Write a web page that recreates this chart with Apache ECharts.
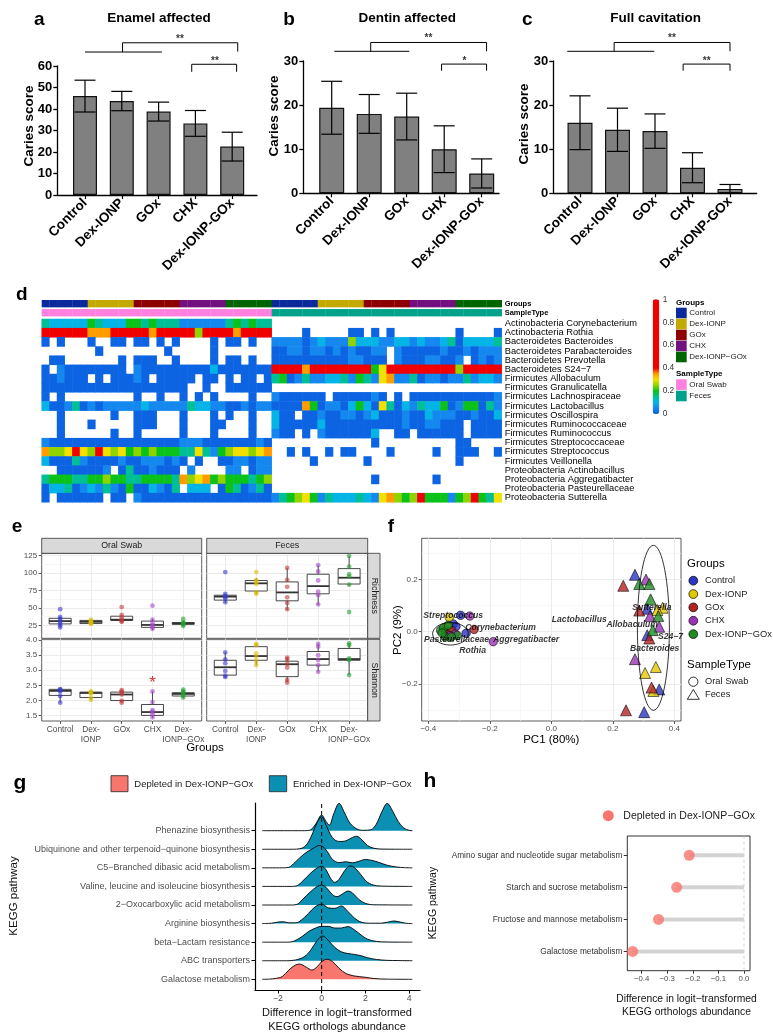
<!DOCTYPE html>
<html><head><meta charset="utf-8">
<script src="https://cdn.jsdelivr.net/npm/echarts@6/dist/echarts.min.js"></script>
<style>html,body{margin:0;padding:0;background:#fff}#c{width:773px;height:1035px}</style>
</head><body><div id="c"></div>
<script>
// ===================== DATA =====================
const groups = ['Control','Dex-IONP','GOx','CHX','Dex-IONP-GOx'];
// panels a-c (mean, SD)
const enamelMean = [46.0, 43.7, 38.8, 33.3, 22.5];
const enamelSD   = [7.4, 4.5, 4.4, 6.0, 6.7];
const dentinMean = [19.4, 18.0, 17.4, 10.0, 4.5];
const dentinSD   = [6.0, 4.4, 5.3, 5.3, 3.3];
const cavMean    = [16.0, 14.4, 14.1, 5.8, 1.0];
const cavSD      = [6.1, 4.9, 3.9, 3.4, 1.0];

// panel d heatmap: one string per taxon, one char per sample ('.' = absent, 0-9 = level)
const taxa = ['Actinobacteria Corynebacterium','Actinobacteria Rothia','Bacteroidetes Bacteroides','Bacteroidetes Parabacteroides','Bacteroidetes Prevotella','Bacteroidetes S24\u22127','Firmicutes Allobaculum','Firmicutes Granulicatella','Firmicutes Lachnospiraceae','Firmicutes Lactobacillus','Firmicutes Oscillospira','Firmicutes Ruminococcaceae','Firmicutes Ruminococcus','Firmicutes Streptococcaceae','Firmicutes Streptococcus','Firmicutes Veillonella','Proteobacteria Actinobacillus','Proteobacteria Aggregatibacter','Proteobacteria Pasteurellaceae','Proteobacteria Sutterella'];
const hmOral = [
 '322222432224434333111111343433',
 '999989777998997999995999879988',
 '0.0...0..00.00.0.0....0.00.0..',
 '.......0........0.....0.......',
 '.00.......0.000..0....0.00.0..',
 '0.100000000.100000000020000000',
 '001000.0.00010.00000.00.0.00.0',
 '0000000000000000000..0..000000',
 '0.0.........0..0..0.0.0....0..',
 '200130101111121111132211001011',
 '..0......0..000...0...0.0..0..',
 '..0...0.....000...0...00...0..',
 '..0......0..0.....0...0....0..',
 '100000000000000000111000000010',
 '755686596564545444336314566567',
 '2000310000100111010.0..0011011',
 '..0000001.03001000.1....11.011',
 '344433445443344443756745444345',
 '022301213104002103.222.0430130',
 '0.000000.00.100000000000000000'];
const hmFeces = [
 '..............................',
 '....0.....00.0.0........0....0',
 '111101211152221122121123022223',
 '001101101010011.10000010010111',
 '000000000011000.100011001.0101',
 '999979999999946999999999599999',
 '340131122314316711301101131221',
 '..............................',
 '1000000.0000010.0.000000000001',
 '000074011024206302132240144031',
 '200.00100110120001002111001002',
 '2000002000000000010011000.0000',
 '100.0.10000002..00.000000.0000',
 '.............0..........00....',
 '..0.0..0.00....0.....0..000..0',
 '.....0......0...........0.....',
 '..............................',
 '.............0.......0........',
 '..............................',
 '134564132223216754594441459436'];
const levelValue = [0.01, 0.05, 0.10, 0.15, 0.20, 0.25, 0.30, 0.35, 0.40, 0.85];
const colorbarTicks = [0, 0.2, 0.4, 0.6, 0.8, 1];

// panel e: box stats [low, Q1, median, Q3, high] and sample points
const oralRichBox  = [[22,27,31,35,37],[26,27.5,30,32,33],[30,32,33,38,40],[18,22,25.5,31,34],[24,26.5,27.5,29,31]];
const oralRichPts  = [[48,37,34,31,28,25,22],[33,31,30,29,28,27],[51,40,36,33,31,30],[53,33,28,25,23,20],[34,29,28,27,26,24]];
const fecesRichBox = [[57,61,66,68,70],[70,74,85,89,92],[47,60,72,87,107],[54,70,81,98,111],[82,84,93,106,124]];
const fecesRichPts = [[101,70,67,65,63,58],[101,90,87,84,72,70],[107,90,80,65,57,48],[111,102,89,73,68,55],[124,109,98,95,83,44]];
const oralShanBox  = [[1.93,2.17,2.32,2.37,2.38],[2.02,2.1,2.25,2.28,2.3],[1.93,2.0,2.2,2.28,2.34],[1.43,1.51,1.62,1.87,2.3],[2.08,2.15,2.22,2.26,2.36]];
const oralShanPts  = [[2.38,2.36,2.33,2.3,2.15,1.93],[2.3,2.28,2.25,2.24,2.1,2.02],[2.34,2.3,2.25,2.2,2.0,1.93],[2.3,1.95,1.68,1.63,1.55,1.45],[2.36,2.3,2.25,2.22,2.17,2.1]];
const fecesShanBox = [[2.78,2.84,3.1,3.33,3.6],[3.17,3.33,3.47,3.78,3.88],[2.6,2.79,3.2,3.3,3.42],[2.95,3.17,3.37,3.62,3.88],[2.84,3.33,3.37,3.72,3.9]];
const fecesShanPts = [[3.59,3.36,3.23,2.98,2.82,2.78],[3.87,3.83,3.56,3.45,3.31,3.17],[3.42,3.36,3.21,3.09,2.68,2.59],[3.87,3.78,3.5,3.34,3.17,2.95],[3.89,3.83,3.39,3.34,2.84]];
const eXLabels = ['Control','Dex-\nIONP','GOx','CHX','Dex-\nIONP\u2212GOx'];

// panel f: PCoA coordinates per group
const pcaOral = [
 [[-0.295,0.063],[-0.319,0.030],[-0.277,-0.006],[-0.335,0.010],[-0.310,0.020]],
 [[-0.332,0.055],[-0.340,0.020],[-0.330,0.000]],
 [[-0.324,0.004],[-0.251,0.009],[-0.340,-0.010]],
 [[-0.265,0.060],[-0.313,-0.009],[-0.189,-0.038],[-0.330,-0.015]],
 [[-0.360,0.005],[-0.350,0.015],[-0.345,-0.020],[-0.335,0.025],[-0.306,-0.014],[-0.355,-0.005],[-0.325,-0.020]]];
const pcaFeces = [
 [[0.272,0.218],[0.312,0.088],[0.312,-0.013],[0.351,-0.221],[0.302,-0.308]],
 [[0.362,0.092],[0.345,0.083],[0.340,-0.135],[0.305,-0.158],[0.332,-0.227]],
 [[0.234,0.176],[0.286,0.081],[0.319,-0.026],[0.326,-0.214],[0.243,-0.301]],
 [[0.308,0.200],[0.321,0.060],[0.351,0.019],[0.272,-0.105]],
 [[0.286,0.183],[0.319,0.183],[0.323,0.124],[0.348,0.060],[0.330,0.006]]];
const biplotNames = ['Streptococcus','Corynebacterium','Pasteurellaceae','Aggregatibacter','Rothia','Lactobacillus','Allobaculum','Sutterella','S24\u22127','Bacteroides'];
const biplotXY = [[-0.319,0.060],[-0.165,0.015],[-0.308,-0.029],[-0.082,-0.030],[-0.256,-0.073],[0.091,0.045],[0.263,0.026],[0.327,0.094],[0.388,-0.019],[0.336,-0.064]];
const ellipses = [[-0.328,-0.008,0.058,0.043],[0.332,0.015,0.052,0.316]]; // cx, cy, rx, ry

// panel g: ridgeline densities [x, height in rows], bottom row first
const ridgeNames = ['Galactose metabolism','ABC transporters','beta\u2212Lactam resistance','Arginine biosynthesis','2\u2212Oxocarboxylic acid metabolism','Valine, leucine and isoleucine biosynthesis','C5\u2212Branched dibasic acid metabolism','Ubiquinone and other terpenoid\u2212quinone biosynthesis','Phenazine biosynthesis'];
const dGalactose = [[-2.72,0],[-2.4,0.01],[-2.1,0.05],[-1.8,0.15],[-1.5,0.5],[-1.2,0.77],[-1.0,0.82],[-0.7,0.65],[-0.45,0.5],[-0.2,0.68],[0,0.95],[0.25,1.08],[0.5,0.95],[0.8,0.59],[1.1,0.32],[1.5,0.18],[2.0,0.11],[2.4,0.04],[3.0,0.01],[4.15,0]];
const dABC = [[-2.72,0],[-1.6,0],[-1.2,0.04],[-0.8,0.21],[-0.5,0.57],[-0.2,1.1],[0.05,1.33],[0.3,1.1],[0.6,0.72],[0.9,0.48],[1.2,0.39],[1.5,0.34],[1.8,0.27],[2.1,0.16],[2.5,0.07],[3.0,0.02],[3.5,0.01],[4.15,0]];
const dBeta = [[-2.72,0],[-1.6,0],[-1.3,0.04],[-0.9,0.3],[-0.6,0.57],[-0.3,0.75],[0,0.85],[0.3,0.85],[0.6,0.76],[0.9,0.76],[1.2,0.84],[1.5,0.66],[1.8,0.39],[2.1,0.16],[2.5,0.04],[3.0,0.01],[4.15,0]];
const dArginine = [[-2.72,0],[-2.3,0.02],[-2.0,0.08],[-1.75,0.1],[-1.5,0.04],[-1.25,0.04],[-1.0,0.12],[-0.6,0.55],[-0.3,0.9],[0,1.05],[0.3,0.85],[0.6,0.82],[0.9,0.95],[1.2,0.65],[1.5,0.3],[1.8,0.08],[2.2,0.02],[2.7,0.02],[3.0,0.07],[3.3,0.14],[3.6,0.08],[3.9,0.01],[4.15,0]];
const dOxo = [[-2.72,0],[-1.4,0],[-1.1,0.05],[-0.9,0.27],[-0.5,0.72],[-0.2,1.0],[0,1.07],[0.2,0.95],[0.5,0.55],[0.7,0.45],[1.0,0.63],[1.2,0.75],[1.4,0.66],[1.7,0.3],[2.0,0.09],[2.4,0.01],[4.15,0]];
const dValine = [[-2.72,0],[-1.4,0],[-1.1,0.05],[-0.9,0.25],[-0.5,0.72],[-0.2,1.0],[0,1.08],[0.2,0.9],[0.4,0.45],[0.6,0.22],[0.8,0.38],[1.05,0.85],[1.3,1.1],[1.5,1.02],[1.8,0.62],[2.1,0.22],[2.5,0.04],[3.0,0.01],[4.15,0]];
const dC5 = [[-2.72,0],[-1.8,0],[-1.5,0.03],[-1.2,0.32],[-0.8,0.75],[-0.4,1.04],[-0.1,1.2],[0.1,1.1],[0.3,0.8],[0.5,0.45],[0.8,0.28],[1.1,0.33],[1.4,0.27],[1.7,0.35],[2.0,0.45],[2.3,0.4],[2.6,0.3],[3.0,0.14],[3.4,0.05],[3.8,0.01],[4.15,0]];
const dUbiq = [[-2.72,0],[-1.3,0],[-1.0,0.03],[-0.8,0.12],[-0.6,0.4],[-0.4,0.9],[-0.2,1.45],[0,1.75],[0.2,1.3],[0.4,0.8],[0.6,0.5],[0.85,0.42],[1.1,0.45],[1.35,0.6],[1.6,0.7],[1.85,0.5],[2.1,0.2],[2.4,0.05],[2.8,0.01],[4.15,0]];
const dPhenazine = [[-2.72,0],[-0.8,0],[-0.5,0.05],[-0.25,0.4],[0,0.84],[0.2,0.5],[0.35,0.3],[0.55,0.9],[0.8,1.47],[1.05,0.95],[1.3,0.4],[1.6,0.1],[1.9,0.02],[2.25,0.05],[2.5,0.35],[2.75,1.0],[3.0,1.47],[3.25,1.05],[3.5,0.5],[3.75,0.15],[4.0,0.02],[4.15,0]];
const ridgeDensities = [dGalactose, dABC, dBeta, dArginine, dOxo, dValine, dC5, dUbiq, dPhenazine];

// panel h: lollipop (bottom row first)
const lolliNames = ['Galactose metabolism','Fructose and mannose metabolism','Starch and sucrose metabolism','Amino sugar and nucleotide sugar metabolism'];
const lolliValues = [-0.435, -0.334, -0.263, -0.214];

// ===================== STYLE =====================
const FONT = '"Liberation Sans", Arial, Helvetica, sans-serif';
const hmGroupColors = ['#0a2a9c','#c2aa00','#8e0000','#72107f','#006400'];
const sampleColors = ['#ff80df','#00a38a'];
const fColors = ['#2b35c4','#e3c800','#b42323','#9b32b5','#1f8c22'];
const eColors = ['#3a3ad0','#d8bb00','#c23a3a','#a548c8','#23a030'];
const blueFill = '#0b8fb2', pink = '#f8766d';

const grid=[], xAxis=[], yAxis=[], series=[], graphic=[];
function addGrid(g){ grid.push(Object.assign({show:false, containLabel:false, outerBoundsMode:'none'}, g)); return grid.length-1; }
function addX(a){ xAxis.push(a); return xAxis.length-1; }
function addY(a){ yAxis.push(a); return yAxis.length-1; }
function T(x, y, str, st, extra){
  const s = Object.assign({text:str, fontFamily:FONT, fontSize:10, fill:'#000', align:'left', verticalAlign:'middle'}, st||{});
  s.textAlign = s.align; s.textVerticalAlign = s.verticalAlign;
  graphic.push(Object.assign({type:'text', x:x, y:y, z:100, silent:true, style:s}, extra||{}));
}
function R(x, y, w, h, fill, stroke, lw){
  graphic.push({type:'rect', z:99, silent:true, shape:{x:x, y:y, width:w, height:h}, style:{fill:fill, stroke:stroke||null, lineWidth:lw||0}});
}
function fmtNum(v, d){ return (v < -1e-9 ? '\u2212' : '') + Math.abs(v).toFixed(d); }

// ===================== PANELS a-c =====================
function errRender(params, api){
  const x = api.value(0);
  const lo = api.coord([x, api.value(1)]), hi = api.coord([x, api.value(2)]);
  const w = 10.5, st = {stroke:'#000', lineWidth:1.2};
  return {type:'group', children:[
    {type:'line', shape:{x1:lo[0], y1:lo[1], x2:hi[0], y2:hi[1]}, style:st},
    {type:'line', shape:{x1:lo[0]-w, y1:lo[1], x2:lo[0]+w, y2:lo[1]}, style:st},
    {type:'line', shape:{x1:hi[0]-w, y1:hi[1], x2:hi[0]+w, y2:hi[1]}, style:st}]};
}
function barPanel(cfg){
  const h = cfg.zeroY - cfg.top;
  const gA = addGrid({left:cfg.axisX, top:cfg.top, width:cfg.axisEnd-cfg.axisX, height:h});
  addX({gridIndex:gA, type:'value', min:0, max:1, axisLine:{show:true, onZero:false, lineStyle:{color:'#000', width:1.3}}, axisTick:{show:false}, axisLabel:{show:false}, splitLine:{show:false}});
  addY({gridIndex:gA, type:'value', min:0, max:cfg.max, interval:cfg.interval,
    axisLine:{show:true, onZero:false, lineStyle:{color:'#000', width:1.3}},
    axisTick:{show:true, length:4, lineStyle:{color:'#000', width:1.3}},
    axisLabel:{fontFamily:FONT, fontWeight:'bold', fontSize:13, color:'#000', margin:5}, splitLine:{show:false}});
  const gB = addGrid({left:cfg.barsLeft, top:cfg.top, width:cfg.step*5, height:h});
  const xc = addX({gridIndex:gB, type:'category', data:groups, axisLine:{show:false, onZero:false},
    axisTick:{show:true, alignWithLabel:true, length:4, lineStyle:{color:'#000', width:1.2}},
    axisLabel:{interval:0, rotate:45, fontFamily:FONT, fontWeight:'bold', fontSize:13.5, color:'#000', margin:6}});
  const xv = addX({gridIndex:gB, type:'value', min:-0.5, max:4.5, show:false});
  const yb = addY({gridIndex:gB, type:'value', min:0, max:cfg.max, show:false});
  series.push({type:'bar', xAxisIndex:xc, yAxisIndex:yb, data:cfg.means, barWidth:cfg.barW, silent:true,
    itemStyle:{color:'#808080', borderColor:'#111', borderWidth:1.2}});
  series.push({type:'custom', xAxisIndex:xc, yAxisIndex:yb, z:5, silent:true,
    data:cfg.means.map((m,i)=>[i, Math.max(0, m-cfg.sds[i]), m+cfg.sds[i]]), renderItem:errRender});
  cfg.brackets.forEach(b => series.push({type:'line', xAxisIndex:xv, yAxisIndex:yb, data:b, clip:false, symbol:'none', silent:true, z:5,
    lineStyle:{color:'#000', width:1}}));
  series.push({type:'scatter', xAxisIndex:xv, yAxisIndex:yb, clip:false, symbolSize:0, silent:true, z:6,
    data:cfg.stars.map(s=>({value:[s[0], s[1]], label:{show:true, position:'inside', formatter:s[2], fontSize:10, fontWeight:'bold', color:'#000', offset:[0,2.5]}}))});
}
barPanel({axisX:57.3, axisEnd:257, top:66, zeroY:195, max:60, interval:10, barsLeft:66.6, step:36.8, barW:24,
  means:enamelMean, sds:enamelSD,
  brackets:[[[0,66.5],[2.09,66.5]], [[1.02,66.5],[1.02,70.8],[4.15,70.8],[4.15,66.7]], [[2.9,57.3],[2.9,60.8],[4.12,60.8],[4.12,57.3]]],
  stars:[[2.58,73.6,'**'],[3.53,63.6,'**']]});
barPanel({axisX:303.3, axisEnd:499, top:61, zeroY:193.3, max:30, interval:10, barsLeft:312.95, step:37.5, barW:25,
  means:dentinMean, sds:dentinSD,
  brackets:[[[0.07,32.2],[2.07,32.2]], [[1.04,32.2],[1.04,34.2],[4.13,34.2],[4.13,32.2]], [[2.93,27.8],[2.93,29.3],[4.13,29.3],[4.13,27.8]]],
  stars:[[2.58,35.7,'**'],[3.54,30.6,'*']]});
barPanel({axisX:553.3, axisEnd:756.7, top:61, zeroY:193.3, max:30, interval:10, barsLeft:561.25, step:37.5, barW:25,
  means:cavMean, sds:cavSD,
  brackets:[[[-0.34,32.2],[1.98,32.2]], [[0.91,32.2],[0.91,34.2],[4.0,34.2],[4.0,32.2]], [[2.75,27.8],[2.75,29.3],[4.0,29.3],[4.0,27.8]]],
  stars:[[2.45,35.7,'**'],[3.38,30.6,'**']]});
T(39.3, 20, 'a', {fontSize:19, fontWeight:'bold', align:'center'});
T(289, 20, 'b', {fontSize:19, fontWeight:'bold', align:'center'});
T(527.3, 20, 'c', {fontSize:19, fontWeight:'bold', align:'center'});
T(159, 18.5, 'Enamel affected', {fontSize:13.5, fontWeight:'bold', align:'center'});
T(407.3, 18.5, 'Dentin affected', {fontSize:13.5, fontWeight:'bold', align:'center'});
T(655.7, 18.5, 'Full cavitation', {fontSize:13.5, fontWeight:'bold', align:'center'});
T(29, 126, 'Caries score', {fontSize:13.5, fontWeight:'bold', align:'center'}, {rotation:Math.PI/2});
T(274, 116, 'Caries score', {fontSize:13.5, fontWeight:'bold', align:'center'}, {rotation:Math.PI/2});
T(524, 124, 'Caries score', {fontSize:13.5, fontWeight:'bold', align:'center'}, {rotation:Math.PI/2});

// ===================== PANEL d =====================
const colIds = Array.from({length:60}, (_, i) => 'S' + (i + 1));
const hmData = [];
taxa.forEach((t, r) => {
  const s = hmOral[r] + hmFeces[r];
  for (let c = 0; c < 60; c++) { const ch = s[c]; if (ch !== '.') hmData.push([c, r, levelValue[+ch]]); }
});
const hmG = addGrid({left:41.7, top:319, width:460, height:183.3});
const hmX = addX({gridIndex:hmG, type:'category', data:colIds, show:false});
const hmY = addY({gridIndex:hmG, type:'category', data:taxa, inverse:true, position:'right',
  axisLine:{show:false}, axisTick:{show:false}, axisLabel:{interval:0, fontFamily:FONT, fontSize:9.3, color:'#000', margin:3}});
const hmSeries = series.length;
series.push({type:'heatmap', xAxisIndex:hmX, yAxisIndex:hmY, data:hmData, silent:true, itemStyle:{borderWidth:0}, progressive:0});
const annG = addGrid({left:41.7, top:300, width:460, height:16.7});
const annX = addX({gridIndex:annG, type:'category', data:colIds, show:false});
const annY = addY({gridIndex:annG, type:'category', data:['Groups','SampleType'], inverse:true, position:'right',
  axisLine:{show:false}, axisTick:{show:false}, axisLabel:{interval:0, fontFamily:FONT, fontSize:7.5, fontWeight:'bold', color:'#000', margin:3}});
const annPalette = hmGroupColors.concat(sampleColors);
const annData = [];
for (let c = 0; c < 60; c++) { annData.push([c, 0, Math.floor((c % 30) / 6)]); annData.push([c, 1, 5 + (c < 30 ? 0 : 1)]); }
series.push({type:'custom', xAxisIndex:annX, yAxisIndex:annY, data:annData, silent:true,
  renderItem:(p, api) => {
    const pt = api.coord([api.value(0), api.value(1)]); const sz = api.size([1, 1]);
    const top = pt[1] - sz[1]/2 + (api.value(1) === 1 ? 0.7 : 0);
    return {type:'rect', shape:{x:pt[0]-sz[0]/2, y:top, width:sz[0]+0.3, height:sz[1]-1}, style:{fill:annPalette[api.value(2)]}};
  }});
T(21.7, 295, 'd', {fontSize:19, fontWeight:'bold', align:'center'});
colorbarTicks.forEach(v => T(662.7, 414 - v*114.7, String(v), {fontSize:8.3, fill:'#333'}));
T(676, 302.5, 'Groups', {fontSize:8, fontWeight:'bold'});
const hmLegendNames = ['Control','Dex-IONP','GOx','CHX','Dex-IONP\u2212GOx'];
hmGroupColors.forEach((c, i) => { R(676, 307.7 + i*11, 10.7, 10.6, c); T(689.3, 313 + i*11, hmLegendNames[i], {fontSize:8, fill:'#222'}); });
T(676, 373.7, 'SampleType', {fontSize:8, fontWeight:'bold'});
R(676, 379.3, 10.7, 10.6, sampleColors[0]); T(689.3, 384.6, 'Oral Swab', {fontSize:8, fill:'#222'});
R(676, 390.7, 10.7, 10.6, sampleColors[1]); T(689.3, 396, 'Feces', {fontSize:8, fill:'#222'});

// ===================== PANEL e =====================
function valAxis(gi, min, max, ticks, showTicks, showLabels, fmt, labelOpt){
  return {gridIndex:gi, type:'value', min:min, max:max,
    axisLine:{show:false, onZero:false},
    axisTick:{show:showTicks, customValues:ticks, length:3, lineStyle:{color:'#333', width:0.8}},
    axisLabel:Object.assign({show:showLabels, customValues:ticks, formatter:fmt, fontFamily:FONT, fontSize:8, color:'#4d4d4d', margin:4}, labelOpt||{}),
    splitLine:{show:true, lineStyle:{color:'#ebebeb', width:1}}};
}
function minorAxis(gi, min, max, ticks){
  return {gridIndex:gi, type:'value', min:min, max:max, axisLine:{show:false, onZero:false},
    axisTick:{show:false, customValues:ticks}, axisLabel:{show:false, customValues:ticks},
    splitLine:{show:true, lineStyle:{color:'#f1f1f1', width:0.6}}};
}
function boxRender(params, api){
  const x = api.value(0);
  const lo = api.coord([x, api.value(1)]), q1 = api.coord([x, api.value(2)]), md = api.coord([x, api.value(3)]),
        q3 = api.coord([x, api.value(4)]), hi = api.coord([x, api.value(5)]);
  const x0 = lo[0], hw = 11, st = {stroke:'#333', lineWidth:0.9};
  return {type:'group', children:[
    {type:'line', shape:{x1:x0, y1:hi[1], x2:x0, y2:q3[1]}, style:st},
    {type:'line', shape:{x1:x0, y1:q1[1], x2:x0, y2:lo[1]}, style:st},
    {type:'rect', shape:{x:x0-hw, y:q3[1], width:2*hw, height:q1[1]-q3[1]}, style:{fill:'#fff', stroke:'#333', lineWidth:0.9}},
    {type:'line', shape:{x1:x0-hw, y1:md[1], x2:x0+hw, y2:md[1]}, style:{stroke:'#333', lineWidth:1.8}}]};
}
const richMaj = [25,50,75,100,125], richMin = [12.5,37.5,62.5,87.5,112.5];
const shanMaj = [1.5,2,2.5,3,3.5,4], shanMin = [1.75,2.25,2.75,3.25,3.75];
const facets = [
  {box:[41.7,553.3,160,85], yr:[6.43,127.9], maj:richMaj, mnr:richMin, sx:false, sy:true, fmt:v=>String(Math.round(v)), boxes:oralRichBox, pts:oralRichPts},
  {box:[206.7,553.3,161,85], yr:[6.43,127.9], maj:richMaj, mnr:richMin, sx:false, sy:false, fmt:v=>String(Math.round(v)), boxes:fecesRichBox, pts:fecesRichPts},
  {box:[41.7,639.3,160,81.7], yr:[1.325,4.023], maj:shanMaj, mnr:shanMin, sx:true, sy:true, fmt:v=>v.toFixed(1), boxes:oralShanBox, pts:oralShanPts, star:true},
  {box:[206.7,639.3,161,81.7], yr:[1.325,4.023], maj:shanMaj, mnr:shanMin, sx:true, sy:false, fmt:v=>v.toFixed(1), boxes:fecesShanBox, pts:fecesShanPts}];
facets.forEach(f => {
  const g = addGrid({left:f.box[0], top:f.box[1], width:f.box[2], height:f.box[3], show:true, borderColor:'#333', borderWidth:0.8, backgroundColor:'#fff'});
  const xm = addX(valAxis(g, -0.6, 4.6, [0,1,2,3,4], f.sx, f.sx, v => eXLabels[Math.round(v)], {lineHeight:9.5, fontSize:8.3}));
  const ym = addY(valAxis(g, f.yr[0], f.yr[1], f.maj, f.sy, f.sy, f.fmt, {margin:4.5}));
  addY(minorAxis(g, f.yr[0], f.yr[1], f.mnr));
  series.push({type:'custom', xAxisIndex:xm, yAxisIndex:ym, silent:true, z:3,
    data:f.boxes.map((b, i) => [i].concat(b)), renderItem:boxRender});
  f.pts.forEach((arr, gi) => series.push({type:'scatter', xAxisIndex:xm, yAxisIndex:ym, silent:true, z:4, symbolSize:4.8,
    itemStyle:{color:eColors[gi], opacity:0.6}, data:arr.map(v => [gi, v])}));
  if (f.star) series.push({type:'scatter', xAxisIndex:xm, yAxisIndex:ym, silent:true, z:5, symbolSize:0,
    data:[{value:[3, 2.56], label:{show:true, position:'inside', formatter:'*', fontSize:17, color:'#d40000'}}]});
});
R(41.7, 538.3, 160, 15, '#d9d9d9', '#333', 0.8); T(121.7, 546, 'Oral Swab', {fontSize:8.8, fill:'#1a1a1a', align:'center'});
R(206.7, 538.3, 161, 15, '#d9d9d9', '#333', 0.8); T(287.2, 546, 'Feces', {fontSize:8.8, fill:'#1a1a1a', align:'center'});
R(367.7, 553.3, 12.3, 85, '#d9d9d9', '#333', 0.8); T(374, 595.8, 'Richness', {fontSize:8.8, fill:'#1a1a1a', align:'center'}, {rotation:-Math.PI/2});
R(367.7, 639.3, 12.3, 81.7, '#d9d9d9', '#333', 0.8); T(374, 680.2, 'Shannon', {fontSize:8.8, fill:'#1a1a1a', align:'center'}, {rotation:-Math.PI/2});
T(17, 527, 'e', {fontSize:19, fontWeight:'bold', align:'center'});
T(205, 748, 'Groups', {fontSize:11.5, align:'center'});

// ===================== PANEL f =====================
const fG = addGrid({left:421.7, top:538.3, width:259.3, height:182.7, show:true, borderColor:'#333', borderWidth:0.8, backgroundColor:'#fff'});
const fX = addX(valAxis(fG, -0.4215, 0.4218, [-0.4,-0.2,0,0.2,0.4], true, true, v => fmtNum(v,1)));
addX(minorAxis(fG, -0.4215, 0.4218, [-0.3,-0.1,0.1,0.3]));
const fY = addY(valAxis(fG, -0.342, 0.358, [-0.2,0,0.2], true, true, v => fmtNum(v,1)));
addY(minorAxis(fG, -0.342, 0.358, [-0.3,-0.1,0.1,0.3]));
pcaOral.forEach((arr, gi) => series.push({type:'scatter', xAxisIndex:fX, yAxisIndex:fY, silent:true, z:4, symbol:'circle', symbolSize:8.5,
  itemStyle:{color:fColors[gi], borderColor:'#000', borderWidth:0.7}, data:arr}));
pcaFeces.forEach((arr, gi) => series.push({type:'scatter', xAxisIndex:fX, yAxisIndex:fY, silent:true, z:4, symbol:'triangle', symbolSize:11,
  itemStyle:{color:fColors[gi], borderColor:'#000', borderWidth:0.7}, data:arr}));
series.push({type:'custom', xAxisIndex:fX, yAxisIndex:fY, silent:true, z:5, data:ellipses,
  renderItem:(p, api) => {
    const c = api.coord([api.value(0), api.value(1)]); const s = api.size([api.value(2), api.value(3)]);
    return {type:'ellipse', shape:{cx:c[0], cy:c[1], rx:s[0], ry:s[1]}, style:{fill:null, stroke:'#000', lineWidth:0.8}};
  }});
series.push({type:'scatter', xAxisIndex:fX, yAxisIndex:fY, silent:true, z:6, symbolSize:0,
  data:biplotNames.map((n, i) => ({value:biplotXY[i], name:n})),
  label:{show:true, position:'inside', formatter:'{b}', fontFamily:FONT, fontSize:8.6, fontStyle:'italic', fontWeight:'bold', color:'#000'}});
T(391, 527, 'f', {fontSize:19, fontWeight:'bold', align:'center'});
T(551.3, 740, 'PC1 (80%)', {fontSize:11.5, align:'center'});
T(398, 630, 'PC2 (9%)', {fontSize:11.5, align:'center'}, {rotation:Math.PI/2});
T(687, 564, 'Groups', {fontSize:11.5});
const fLegendNames = ['Control','Dex-IONP','GOx','CHX','Dex-IONP\u2212GOx'];
fColors.forEach((c, i) => {
  const y = 580.7 + i*13.35;
  graphic.push({type:'circle', z:99, silent:true, shape:{cx:693.3, cy:y, r:4.4}, style:{fill:c, stroke:'#000', lineWidth:0.7}});
  T(705, y, fLegendNames[i], {fontSize:9.3, fill:'#222'});
});
T(687, 665, 'SampleType', {fontSize:11.5});
graphic.push({type:'circle', z:99, silent:true, shape:{cx:693.3, cy:681.7, r:4.6}, style:{fill:'#fff', stroke:'#000', lineWidth:0.8}});
T(705, 681.7, 'Oral Swab', {fontSize:9.3, fill:'#222'});
graphic.push({type:'polygon', z:99, silent:true, shape:{points:[[693.3,689.5],[687.3,699.3],[699.3,699.3]]}, style:{fill:'#fff', stroke:'#000', lineWidth:0.8}});
T(705, 694.7, 'Feces', {fontSize:9.3, fill:'#222'});

// ===================== PANEL g =====================
const gG = addGrid({left:255, top:803, width:165, height:187});
const gX = addX({gridIndex:gG, type:'value', min:-3.05, max:4.5,
  axisLine:{show:true, onZero:false, lineStyle:{color:'#000', width:1.2}},
  axisTick:{show:true, customValues:[-2,0,2,4], length:3.5, lineStyle:{color:'#000', width:1}},
  axisLabel:{customValues:[-2,0,2,4], formatter:v => fmtNum(v,0), fontFamily:FONT, fontSize:8.7, color:'#4d4d4d', margin:4},
  splitLine:{show:false}});
const gY = addY({gridIndex:gG, type:'value', min:0.425, max:10.49,
  axisLine:{show:true, onZero:false, lineStyle:{color:'#000', width:1.2}},
  axisTick:{show:true, customValues:[1,2,3,4,5,6,7,8,9], length:3.5, lineStyle:{color:'#000', width:1}},
  axisLabel:{customValues:[1,2,3,4,5,6,7,8,9], formatter:v => ridgeNames[Math.round(v)-1], fontFamily:FONT, fontSize:9, color:'#4d4d4d', margin:5},
  splitLine:{show:false}});
ridgeDensities.forEach((d, i) => {
  const base = i + 1;
  series.push({type:'line', xAxisIndex:gX, yAxisIndex:gY, silent:true, z:20 - i, symbol:'none', smooth:0.35,
    data:d.map(p => [p[0], base + p[1]]),
    lineStyle:{color:'#000', width:0.9},
    areaStyle:{color:i === 0 ? pink : blueFill, opacity:1, origin:base}});
});
series.push({type:'line', xAxisIndex:gX, yAxisIndex:gY, silent:true, z:40, symbol:'none', data:[[0,0.425],[0,10.49]],
  lineStyle:{color:'#000', width:1, type:[4,3]}});
T(20, 783, 'g', {fontSize:21, fontWeight:'bold', align:'center'});
R(111, 775.7, 17, 16, pink, '#222', 0.8); T(134.3, 784, 'Depleted in Dex-IONP\u2212GOx', {fontSize:9.5, fill:'#222'});
R(269.3, 775.7, 17.4, 16, blueFill, '#222', 0.8); T(293, 784, 'Enriched in Dex-IONP\u2212GOx', {fontSize:9.5, fill:'#222'});
T(14, 896, 'KEGG pathway', {fontSize:11.5, align:'center', fill:'#111'}, {rotation:Math.PI/2});
T(337, 1012.7, 'Difference in logit\u2212transformed', {fontSize:11, align:'center', fill:'#111'});
T(337, 1026.5, 'KEGG orthologs abundance', {fontSize:11, align:'center', fill:'#111'});

// ===================== PANEL h =====================
const hG = addGrid({left:627.3, top:836, width:122.7, height:134.7, show:true, borderColor:'#333', borderWidth:1});
const hX = addX({gridIndex:hG, type:'value', min:-0.456, max:0.0235,
  axisLine:{show:false, onZero:false},
  axisTick:{show:true, customValues:[-0.4,-0.3,-0.2,-0.1,0], length:3, lineStyle:{color:'#333', width:1}},
  axisLabel:{customValues:[-0.4,-0.3,-0.2,-0.1,0], formatter:v => fmtNum(v,1), fontFamily:FONT, fontSize:7.8, color:'#4d4d4d', margin:4},
  splitLine:{show:false}});
const hY = addY({gridIndex:hG, type:'value', min:-0.6, max:3.6,
  axisLine:{show:false, onZero:false},
  axisTick:{show:true, customValues:[0,1,2,3], length:3.5, lineStyle:{color:'#333', width:1}},
  axisLabel:{customValues:[0,1,2,3], formatter:v => lolliNames[Math.round(v)], fontFamily:FONT, fontSize:8.3, color:'#333', margin:5},
  splitLine:{show:false}});
series.push({type:'line', xAxisIndex:hX, yAxisIndex:hY, silent:true, z:2, symbol:'none', data:[[0,-0.6],[0,3.6]],
  lineStyle:{color:'#c8c8c8', width:0.8, type:[3,3]}});
series.push({type:'custom', xAxisIndex:hX, yAxisIndex:hY, silent:true, z:3, data:lolliValues.map((v, i) => [v, i]),
  renderItem:(p, api) => {
    const a = api.coord([api.value(0), api.value(1)]), b = api.coord([0, api.value(1)]);
    return {type:'line', shape:{x1:a[0], y1:a[1], x2:b[0], y2:b[1]}, style:{stroke:'#d3d3d3', lineWidth:4}};
  }});
series.push({type:'scatter', xAxisIndex:hX, yAxisIndex:hY, silent:true, z:4, symbolSize:11, itemStyle:{color:pink},
  data:lolliValues.map((v, i) => [v, i])});
T(430, 781, 'h', {fontSize:21, fontWeight:'bold', align:'center'});
graphic.push({type:'circle', z:99, silent:true, shape:{cx:608.3, cy:815.7, r:5.5}, style:{fill:pink}});
T(623.3, 815.7, 'Depleted in Dex-IONP\u2212GOx', {fontSize:10.5, fill:'#222'});
T(432.7, 903, 'KEGG pathway', {fontSize:10.5, align:'center', fill:'#111'}, {rotation:Math.PI/2});
T(686.5, 999.3, 'Difference in logit\u2212transformed', {fontSize:10.3, align:'center', fill:'#111'});
T(686.5, 1012.5, 'KEGG orthologs abundance', {fontSize:10.3, align:'center', fill:'#111'});

// ===================== CHART =====================
const cbColors = ['#0a5be0','#1488ee','#04b4e6','#00bf97','#0bc21a','#8fd400','#f2e000','#ff9c00','#f00000',
  '#f00000','#f00000','#f00000','#f00000','#f00000','#f00000','#f00000','#f00000','#f00000','#f00000','#f00000','#f00000'];
const chart = echarts.init(document.getElementById('c'), null, {renderer:'canvas'});
chart.setOption({
  animation:false,
  backgroundColor:'#fff',
  textStyle:{fontFamily:FONT},
  grid:grid, xAxis:xAxis, yAxis:yAxis, series:series, graphic:graphic,
  visualMap:[{type:'continuous', seriesIndex:hmSeries, dimension:2, min:0, max:1, show:true, calculable:false, hoverLink:false,
    orient:'vertical', left:652.7, top:299.3, itemWidth:6.6, itemHeight:114.7, padding:0, inRange:{color:cbColors}}]
});
</script>
</body></html>
